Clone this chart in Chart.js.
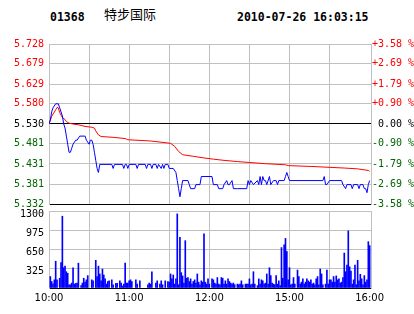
<!DOCTYPE html>
<html>
<head>
<meta charset="utf-8">
<script src="https://cdn.jsdelivr.net/npm/chart.js@4.4.0/dist/chart.umd.min.js"></script>
<style>
    html, body { margin: 0; padding: 0; background: #fff; width: 414px; height: 314px; overflow: hidden; position: relative; }
    canvas { position: absolute; left: 0; }
    .hd { position: absolute; white-space: pre; color: #000; }
    .mono { font: bold 11.5px "DejaVu Sans Mono", monospace; line-height: 12px; top: 11px; }
    .cjk { font: 13px "Noto Sans CJK SC", sans-serif; line-height: 14px; top: 7px; }
</style>
</head>
<body>
<div class="hd mono" style="left:50px">01368</div>
<div class="hd cjk" style="left:104px">特步国际</div>
<div class="hd mono" style="left:237px">2010-07-26 16:03:15</div>
<canvas id="priceChart" width="414" height="216" style="top:0"></canvas>
<canvas id="volChart" width="414" height="114" style="top:200px"></canvas>
<script>
// previous close and axis ticks
const prevClose = 5.530;
const priceTicks = [5.332, 5.381, 5.431, 5.481, 5.530, 5.580, 5.629, 5.679, 5.728];
const pctLabels = ['-3.58 %', '-2.69 %', '-1.79 %', '-0.90 %', ' 0.00 %', '+0.90 %', '+1.79 %', '+2.69 %', '+3.58 %'];
const volTicks = [0, 325, 650, 975, 1300];
// minutes since 10:00 (lunch break removed: 150 = 12:30 / 14:30)
const timeTicks = [0, 30, 60, 90, 120, 150, 180, 210, 240];
const timeLabels = ['10:00', '', '11:00', '', '12:00', '', '15:00', '', '16:00'];

// last price (blue)
const priceMinutes = [0, 1, 2, 3, 5, 7, 8, 10, 11, 12, 13, 14, 15, 16, 17, 18, 20, 21, 23, 27,
    28, 30, 31, 32, 33, 34, 35, 36, 37, 38, 47, 48, 49, 55, 56, 57, 58, 59, 60, 65,
    66, 67, 72, 73, 74, 76, 77, 78, 80, 81, 82, 84, 85, 86, 87, 89, 90, 93, 95, 96,
    97, 98, 99, 100, 104, 105, 106, 109, 110, 113, 114, 122, 123, 126, 127, 130, 131, 133, 134, 135,
    137, 138, 141, 148, 149, 150, 151, 153, 156, 157, 158, 159, 160, 161, 162, 163, 165, 166, 168, 170,
    171, 172, 176, 177, 178, 179, 180, 205, 206, 207, 208, 210, 219, 220, 222, 223, 226, 227, 228, 231,
    232, 233, 235, 236, 237, 238, 239, 240];
const priceValues = [5.53, 5.54, 5.56, 5.57, 5.58, 5.58, 5.57, 5.55, 5.53, 5.52, 5.50, 5.48, 5.46, 5.46, 5.47, 5.48, 5.49, 5.49, 5.50, 5.50,
    5.49, 5.48, 5.49, 5.49, 5.48, 5.46, 5.44, 5.42, 5.41, 5.43, 5.43, 5.42, 5.43, 5.43, 5.42, 5.43, 5.43, 5.42, 5.43, 5.43,
    5.42, 5.43, 5.43, 5.42, 5.43, 5.43, 5.42, 5.43, 5.43, 5.42, 5.43, 5.42, 5.43, 5.42, 5.43, 5.43, 5.42, 5.42, 5.41, 5.39,
    5.37, 5.35, 5.37, 5.39, 5.39, 5.38, 5.37, 5.37, 5.38, 5.38, 5.40, 5.40, 5.38, 5.38, 5.37, 5.37, 5.38, 5.39, 5.38, 5.38,
    5.39, 5.37, 5.37, 5.37, 5.39, 5.38, 5.39, 5.38, 5.39, 5.38, 5.40, 5.38, 5.40, 5.39, 5.39, 5.38, 5.40, 5.38, 5.39, 5.39,
    5.38, 5.39, 5.39, 5.40, 5.41, 5.40, 5.39, 5.39, 5.40, 5.38, 5.38, 5.39, 5.39, 5.38, 5.37, 5.38, 5.38, 5.37, 5.38, 5.38,
    5.37, 5.38, 5.38, 5.37, 5.37, 5.36, 5.38, 5.39];

// average price (red)
const avgMinutes = [0, 2, 5, 6, 7, 8, 10, 12, 13, 15, 18, 22, 27, 32, 34, 35, 37, 39, 48, 57,
    59, 76, 89, 91, 94, 97, 100, 108, 116, 123, 131, 141, 149, 161, 177, 179, 196, 221, 231, 239, 240];
const avgValues = [5.530, 5.549, 5.565, 5.571, 5.570, 5.558, 5.546, 5.541, 5.536, 5.532, 5.530, 5.528, 5.524, 5.522, 5.520, 5.513, 5.503, 5.499, 5.497, 5.494,
    5.491, 5.488, 5.483, 5.482, 5.475, 5.462, 5.454, 5.450, 5.446, 5.443, 5.440, 5.437, 5.435, 5.432, 5.429, 5.427, 5.425, 5.421, 5.419, 5.415, 5.413];

// volume per minute
const volMinutes = [1, 2, 3, 4, 5, 6, 8, 9, 10, 11, 12, 13, 14, 15, 16, 17, 18, 19, 20, 21,
    22, 24, 25, 26, 27, 28, 29, 32, 33, 35, 36, 37, 38, 39, 40, 41, 42, 43, 44, 45,
    47, 48, 50, 51, 53, 54, 55, 56, 57, 58, 59, 60, 61, 62, 65, 66, 68, 74, 75, 76,
    77, 80, 81, 83, 84, 85, 87, 89, 90, 91, 92, 93, 94, 95, 96, 97, 98, 99, 100, 101,
    102, 103, 104, 105, 106, 107, 108, 109, 110, 111, 112, 113, 114, 115, 116, 117, 118, 119, 120, 122,
    123, 124, 125, 126, 127, 128, 129, 130, 131, 132, 133, 134, 135, 136, 137, 138, 139, 141, 142, 143,
    144, 145, 147, 148, 149, 150, 151, 152, 153, 154, 156, 157, 158, 159, 160, 161, 162, 163, 164, 165,
    166, 167, 168, 169, 170, 171, 172, 173, 174, 175, 176, 177, 178, 179, 180, 181, 182, 183, 184, 186,
    187, 188, 189, 190, 191, 192, 193, 194, 195, 196, 197, 198, 199, 200, 201, 202, 203, 204, 205, 207,
    208, 209, 210, 211, 212, 213, 214, 215, 216, 217, 218, 219, 220, 221, 222, 223, 224, 225, 226, 227,
    228, 229, 230, 231, 232, 233, 234, 235, 236, 237, 238, 239, 240];
const volValues = [193, 110, 72, 138, 452, 138, 165, 430, 1212, 342, 369, 275, 248, 55, 55, 83, 342, 66, 77, 83,
    419, 39, 83, 165, 99, 138, 209, 138, 121, 468, 193, 369, 237, 121, 320, 220, 154, 66, 110, 121,
    138, 55, 77, 77, 121, 83, 33, 66, 419, 83, 83, 121, 138, 110, 138, 66, 121, 55, 83, 66,
    275, 83, 121, 66, 121, 55, 121, 110, 99, 237, 154, 220, 66, 154, 1251, 55, 854, 259, 204, 83,
    799, 165, 176, 110, 154, 66, 110, 138, 83, 237, 99, 55, 121, 99, 915, 99, 66, 154, 66, 154,
    138, 83, 66, 176, 66, 55, 176, 165, 66, 121, 66, 154, 110, 83, 66, 83, 55, 66, 55, 66,
    121, 55, 66, 66, 66, 154, 55, 66, 275, 66, 39, 154, 66, 138, 121, 66, 83, 237, 66, 342,
    209, 83, 66, 55, 209, 66, 121, 39, 683, 165, 727, 837, 617, 138, 342, 55, 66, 176, 66, 303,
    193, 66, 99, 154, 66, 99, 154, 121, 99, 138, 66, 83, 55, 154, 193, 55, 320, 237, 55, 66,
    303, 66, 138, 138, 99, 193, 99, 204, 138, 154, 83, 99, 176, 590, 275, 386, 964, 358, 287, 66,
    138, 386, 55, 468, 121, 231, 154, 55, 209, 99, 138, 782, 716];

const GRID = '#c0c0c0';
const RED = '#ff0000';
const GREEN = '#006600';
const MONO = { family: '"DejaVu Sans Mono", monospace', size: 10 };

function pctColor(value) {
    if (Math.abs(value - prevClose) < 1e-6) return '#000';
    return value > prevClose ? RED : GREEN;
}

function setTicks(list) {
    return (scale) => { scale.ticks = list.map(v => ({ value: v })); };
}

// upper panel: price and average
new Chart(document.getElementById('priceChart'), {
    type: 'line',
    data: {
        datasets: [
            {
                data: priceMinutes.map((m, i) => ({ x: m, y: priceValues[i] })),
                borderColor: '#0000ff',
                borderWidth: 1,
                pointRadius: 0,
                tension: 0,
                order: 0
            },
            {
                data: avgMinutes.map((m, i) => ({ x: m, y: avgValues[i] })),
                borderColor: RED,
                borderWidth: 1,
                pointRadius: 0,
                tension: 0,
                order: 1
            }
        ]
    },
    options: {
        responsive: false,
        animation: false,
        devicePixelRatio: 1,
        events: [],
        layout: { padding: { top: 44, bottom: 12, left: 0, right: 0 } },
        plugins: { legend: { display: false }, tooltip: { enabled: false } },
        scales: {
            x: {
                type: 'linear', min: 0, max: 241,
                afterBuildTicks: setTicks(timeTicks),
                afterFit: (s) => { s.height = 0; },
                ticks: { display: false },
                grid: { color: (c) => (c.tick && c.tick.value === 240) ? 'rgba(0,0,0,0)' : GRID, drawTicks: false },
                border: { display: false }
            },
            y: {
                position: 'left', min: priceTicks[0], max: priceTicks[priceTicks.length - 1],
                afterBuildTicks: setTicks(priceTicks),
                afterFit: (s) => { s.width = 49; },
                ticks: {
                    callback: (v) => v.toFixed(3),
                    color: (c) => pctColor(c.tick.value),
                    font: MONO,
                    padding: 5
                },
                grid: {
                    color: (c) => (c.tick && (Math.abs(c.tick.value - prevClose) < 1e-6 || c.tick.value === priceTicks[0])) ? '#000' : GRID,
                    drawTicks: false
                },
                border: { color: GRID }
            },
            y2: {
                position: 'right', min: priceTicks[0], max: priceTicks[priceTicks.length - 1],
                afterBuildTicks: setTicks(priceTicks),
                afterFit: (s) => { s.width = 43; },
                ticks: {
                    callback: (v, i) => pctLabels[i],
                    color: (c) => pctColor(c.tick.value),
                    font: MONO,
                    padding: 1
                },
                grid: { drawOnChartArea: false, drawTicks: false },
                border: { color: GRID }
            }
        }
    }
});

// lower panel: volume
new Chart(document.getElementById('volChart'), {
    type: 'bar',
    data: {
        datasets: [{
            data: volMinutes.map((m, i) => ({ x: m, y: volValues[i] })),
            backgroundColor: '#0000ff',
            borderWidth: 0,
            barThickness: 1
        }]
    },
    options: {
        responsive: false,
        animation: false,
        devicePixelRatio: 1,
        events: [],
        layout: { padding: { top: 9, bottom: 0, left: 0, right: 0 } },
        plugins: { legend: { display: false }, tooltip: { enabled: false } },
        scales: {
            x: {
                type: 'linear', min: 0, max: 241, offset: false,
                afterBuildTicks: setTicks(timeTicks),
                afterFit: (s) => { s.height = 26; },
                ticks: {
                    callback: (v, i) => timeLabels[i],
                    color: '#000',
                    font: { family: '"DejaVu Sans", sans-serif', size: 10 },
                    padding: 4,
                    autoSkip: false,
                    maxRotation: 0
                },
                grid: { offset: false, color: (c) => (c.tick && c.tick.value === 240) ? 'rgba(0,0,0,0)' : GRID, drawTicks: false },
                border: { color: '#000' }
            },
            y: {
                position: 'left', min: 0, max: 1300,
                afterBuildTicks: setTicks(volTicks),
                afterFit: (s) => { s.width = 49; },
                ticks: {
                    callback: (v, i) => i === 0 ? '' : String(v),
                    color: '#000',
                    font: MONO,
                    padding: 5,
                    labelOffset: 3
                },
                grid: { color: (c) => (c.tick && c.tick.value === 0) ? '#000' : GRID, drawTicks: false },
                border: { color: GRID }
            },
            y2: {
                position: 'right', min: 0, max: 1300,
                afterFit: (s) => { s.width = 43; },
                ticks: { display: false },
                grid: { drawOnChartArea: false, drawTicks: false },
                border: { color: GRID }
            }
        }
    }
});
</script>
</body>
</html>
